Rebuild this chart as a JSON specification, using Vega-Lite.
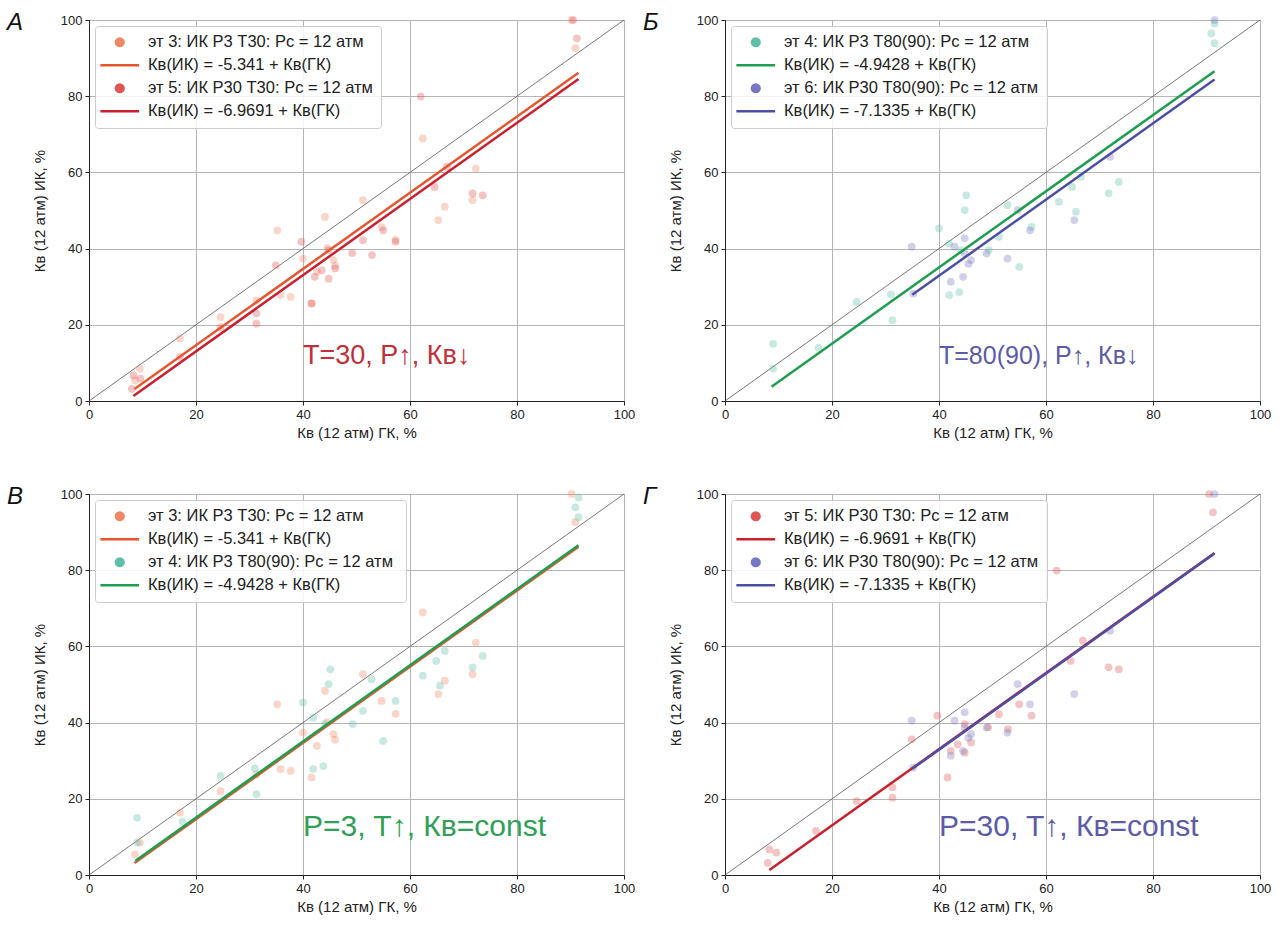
{
  "$schema": "https://vega.github.io/schema/vega-lite/v6.json",
  "background": "white",
  "padding": {"left": 6, "top": 10, "right": 5, "bottom": 5},
  "datasets": {
    "pts": [
      {"s":"p3","gk":8.6,"ik":5.4},{"s":"p3","gk":9.5,"ik":8.5},{"s":"p3","gk":17,"ik":16.4},{"s":"p3","gk":24.6,"ik":22},{"s":"p3","gk":31.3,"ik":26.4},
      {"s":"p3","gk":35.8,"ik":27.8},{"s":"p3","gk":37.7,"ik":27.3},{"s":"p3","gk":35.2,"ik":44.8},{"s":"p3","gk":41.6,"ik":25.6},{"s":"p3","gk":40,"ik":37.4},
      {"s":"p3","gk":44.5,"ik":40.1},{"s":"p3","gk":45.7,"ik":37},{"s":"p3","gk":44.1,"ik":48.3},{"s":"p3","gk":46,"ik":35.5},{"s":"p3","gk":51.2,"ik":52.7},
      {"s":"p3","gk":54.7,"ik":45.7},{"s":"p3","gk":57.3,"ik":42.3},{"s":"p3","gk":62.4,"ik":68.9},{"s":"p3","gk":65.3,"ik":47.5},{"s":"p3","gk":66.5,"ik":51},
      {"s":"p3","gk":71.7,"ik":52.7},{"s":"p3","gk":72.3,"ik":61},{"s":"p3","gk":90.9,"ik":92.6},{"s":"p3","gk":90.2,"ik":100},{"s":"p3","gk":42.6,"ik":33.9},
      {"s":"p5","gk":8.3,"ik":6.7},{"s":"p5","gk":9.6,"ik":5.9},{"s":"p5","gk":8,"ik":3.2},{"s":"p5","gk":17,"ik":11.6},{"s":"p5","gk":24.6,"ik":19.4},
      {"s":"p5","gk":31.3,"ik":23},{"s":"p5","gk":31.3,"ik":20.3},{"s":"p5","gk":34.9,"ik":35.6},{"s":"p5","gk":39.7,"ik":41.8},{"s":"p5","gk":41.6,"ik":25.6},
      {"s":"p5","gk":42.2,"ik":32.6},{"s":"p5","gk":43.5,"ik":34.3},{"s":"p5","gk":44.8,"ik":39.6},{"s":"p5","gk":44.8,"ik":32.1},{"s":"p5","gk":46,"ik":34.8},
      {"s":"p5","gk":49.2,"ik":38.8},{"s":"p5","gk":51.2,"ik":42.2},{"s":"p5","gk":52.9,"ik":38.3},{"s":"p5","gk":55,"ik":44.8},{"s":"p5","gk":57.3,"ik":41.8},
      {"s":"p5","gk":62,"ik":79.9},{"s":"p5","gk":64.6,"ik":56.2},{"s":"p5","gk":66.9,"ik":61.5},{"s":"p5","gk":71.7,"ik":54.5},{"s":"p5","gk":73.6,"ik":54},
      {"s":"p5","gk":91.2,"ik":95.2},{"s":"p5","gk":90.5,"ik":100},
      {"s":"p4","gk":9,"ik":15},{"s":"p4","gk":9,"ik":8.5},{"s":"p4","gk":17.5,"ik":14},{"s":"p4","gk":24.6,"ik":26},{"s":"p4","gk":31.3,"ik":21.2},
      {"s":"p4","gk":31,"ik":28},{"s":"p4","gk":40,"ik":45.3},{"s":"p4","gk":45.1,"ik":54},{"s":"p4","gk":44.8,"ik":50.1},{"s":"p4","gk":41.9,"ik":41.3},
      {"s":"p4","gk":44.1,"ik":39.6},{"s":"p4","gk":49.3,"ik":39.6},{"s":"p4","gk":43.8,"ik":28.6},{"s":"p4","gk":41.9,"ik":27.8},{"s":"p4","gk":51.2,"ik":43.1},
      {"s":"p4","gk":52.8,"ik":51.4},{"s":"p4","gk":57.3,"ik":45.7},{"s":"p4","gk":55,"ik":35.2},{"s":"p4","gk":62.4,"ik":52.3},{"s":"p4","gk":64.9,"ik":56.2},
      {"s":"p4","gk":65.6,"ik":49.7},{"s":"p4","gk":66.5,"ik":58.8},{"s":"p4","gk":71.7,"ik":54.5},{"s":"p4","gk":73.6,"ik":57.5},{"s":"p4","gk":90.9,"ik":96.5},
      {"s":"p4","gk":91.5,"ik":93.9},{"s":"p4","gk":91.5,"ik":99.1},
      {"s":"p6","gk":34.9,"ik":40.5},{"s":"p6","gk":35.2,"ik":28.2},{"s":"p6","gk":42.9,"ik":40.5},{"s":"p6","gk":44.8,"ik":42.7},{"s":"p6","gk":44.8,"ik":38.7},
      {"s":"p6","gk":46,"ik":37},{"s":"p6","gk":42.2,"ik":31.3},{"s":"p6","gk":44.5,"ik":32.6},{"s":"p6","gk":48.9,"ik":38.7},{"s":"p6","gk":52.8,"ik":37.4},
      {"s":"p6","gk":54.7,"ik":50.1},{"s":"p6","gk":57,"ik":44.8},{"s":"p6","gk":65.3,"ik":47.5},{"s":"p6","gk":72,"ik":64.1},{"s":"p6","gk":91.5,"ik":100},
      {"s":"p6","gk":45.5,"ik":36}
    ],
    "fits": [
      {"s":"l3","gk":8.5,"ik":3.159},{"s":"l3","gk":91.5,"ik":86.159},
      {"s":"l5","gk":8.3,"ik":1.331},{"s":"l5","gk":91.5,"ik":84.531},
      {"s":"l4","gk":8.7,"ik":3.757},{"s":"l4","gk":91.5,"ik":86.557},
      {"s":"l6","gk":35,"ik":27.867},{"s":"l6","gk":91.5,"ik":84.367}
    ],
    "diag": [{"gk":0,"ik":0},{"gk":100,"ik":100}],
    "notes": [
      {"p":"A","note":"T=30, P↑, Кв↓","gk":40,"ik":11.8},
      {"p":"B","note":"T=80(90), P↑, Кв↓","gk":40,"ik":11.8},
      {"p":"C","note":"P=3, T↑, Кв=const","gk":40,"ik":12.6},
      {"p":"D","note":"P=30, T↑, Кв=const","gk":40,"ik":12.6}
    ]
  },
  "columns": 2,
  "spacing": {"row": 43, "column": 6},
  "resolve": {
    "scale": {"color": "independent", "stroke": "independent", "shape": "independent"},
    "legend": {"color": "independent", "stroke": "independent", "shape": "independent"}
  },
  "concat": [
    {
      "width": 535, "height": 381,
      "title": {"text": "А"},
      "encoding": {
        "x": {"field":"gk","type":"quantitative","scale":{"domain":[0,100],"nice":false,"zero":false},"axis":{"values":[0,20,40,60,80,100],"title":"Кв (12 атм) ГК, %"}},
        "y": {"field":"ik","type":"quantitative","scale":{"domain":[0,100],"nice":false,"zero":false},"axis":{"values":[0,20,40,60,80,100],"title":"Кв (12 атм) ИК, %"}}
      },
      "layer": [
        {"data":{"name":"diag"},"mark":{"type":"line","color":"#555555","strokeWidth":0.8}},
        {"data":{"name":"pts"},"transform":[{"filter":"datum.s==='p3' || datum.s==='p5'"}],
         "mark":{"type":"point","filled":true,"size":60,"fillOpacity":0.35,"strokeOpacity":1,"strokeWidth":2.5},
         "encoding":{
           "color":{"field":"s","type":"nominal","scale":{"domain":["p3","l3","p5","l5"],"range":["#ee8866","#e4572e","#e05555","#c8202f"]},
             "legend":{"labelExpr":"datum.value==='p3' ? 'эт 3: ИК Р3  Т30: Рс = 12 атм' : datum.value==='l3' ? 'Кв(ИК) = -5.341 + Кв(ГК)' : datum.value==='p4' ? 'эт 4: ИК Р3  Т80(90): Рс = 12 атм' : datum.value==='l4' ? 'Кв(ИК) = -4.9428 + Кв(ГК)' : datum.value==='p5' ? 'эт 5: ИК Р30 Т30: Рс = 12 атм' : datum.value==='l5' ? 'Кв(ИК) = -6.9691 + Кв(ГК)' : datum.value==='p6' ? 'эт 6: ИК Р30 Т80(90): Рс = 12 атм' : 'Кв(ИК) = -7.1335 + Кв(ГК)'"}},
           "stroke":{"field":"s","type":"nominal","scale":{"domain":["p3","l3","p5","l5"],"range":["transparent","#e4572e","transparent","#c8202f"]},
             "legend":{"labelExpr":"datum.value==='p3' ? 'эт 3: ИК Р3  Т30: Рс = 12 атм' : datum.value==='l3' ? 'Кв(ИК) = -5.341 + Кв(ГК)' : datum.value==='p4' ? 'эт 4: ИК Р3  Т80(90): Рс = 12 атм' : datum.value==='l4' ? 'Кв(ИК) = -4.9428 + Кв(ГК)' : datum.value==='p5' ? 'эт 5: ИК Р30 Т30: Рс = 12 атм' : datum.value==='l5' ? 'Кв(ИК) = -6.9691 + Кв(ГК)' : datum.value==='p6' ? 'эт 6: ИК Р30 Т80(90): Рс = 12 атм' : 'Кв(ИК) = -7.1335 + Кв(ГК)'"}},
           "shape":{"field":"s","type":"nominal","scale":{"domain":["p3","l3","p5","l5"],"range":["circle","M-5,0H5","circle","M-5,0H5"]},
             "legend":{"labelExpr":"datum.value==='p3' ? 'эт 3: ИК Р3  Т30: Рс = 12 атм' : datum.value==='l3' ? 'Кв(ИК) = -5.341 + Кв(ГК)' : datum.value==='p4' ? 'эт 4: ИК Р3  Т80(90): Рс = 12 атм' : datum.value==='l4' ? 'Кв(ИК) = -4.9428 + Кв(ГК)' : datum.value==='p5' ? 'эт 5: ИК Р30 Т30: Рс = 12 атм' : datum.value==='l5' ? 'Кв(ИК) = -6.9691 + Кв(ГК)' : datum.value==='p6' ? 'эт 6: ИК Р30 Т80(90): Рс = 12 атм' : 'Кв(ИК) = -7.1335 + Кв(ГК)'"}}
         }},
        {"data":{"name":"fits"},"transform":[{"filter":"datum.s==='l3' || datum.s==='l5'"}],
         "mark":{"type":"line","strokeWidth":2.5},
         "encoding":{"color":{"field":"s","type":"nominal"}}},
        {"data":{"name":"notes"},"transform":[{"filter":"datum.p==='A'"}],
         "mark":{"type":"text","align":"left","baseline":"middle","fontSize":27,"color":"#c0303a"},
         "encoding":{"text":{"field":"note","type":"nominal"}}}
      ]
    },
    {
      "width": 535, "height": 381,
      "title": {"text": "Б"},
      "encoding": {
        "x": {"field":"gk","type":"quantitative","scale":{"domain":[0,100],"nice":false,"zero":false},"axis":{"values":[0,20,40,60,80,100],"title":"Кв (12 атм) ГК, %"}},
        "y": {"field":"ik","type":"quantitative","scale":{"domain":[0,100],"nice":false,"zero":false},"axis":{"values":[0,20,40,60,80,100],"title":"Кв (12 атм) ИК, %"}}
      },
      "layer": [
        {"data":{"name":"diag"},"mark":{"type":"line","color":"#555555","strokeWidth":0.8}},
        {"data":{"name":"pts"},"transform":[{"filter":"datum.s==='p4' || datum.s==='p6'"}],
         "mark":{"type":"point","filled":true,"size":60,"fillOpacity":0.35,"strokeOpacity":1,"strokeWidth":2.5},
         "encoding":{
           "color":{"field":"s","type":"nominal","scale":{"domain":["p4","l4","p6","l6"],"range":["#5fbfa8","#1f9e50","#7777c4","#4b4ea3"]},
             "legend":{"labelExpr":"datum.value==='p3' ? 'эт 3: ИК Р3  Т30: Рс = 12 атм' : datum.value==='l3' ? 'Кв(ИК) = -5.341 + Кв(ГК)' : datum.value==='p4' ? 'эт 4: ИК Р3  Т80(90): Рс = 12 атм' : datum.value==='l4' ? 'Кв(ИК) = -4.9428 + Кв(ГК)' : datum.value==='p5' ? 'эт 5: ИК Р30 Т30: Рс = 12 атм' : datum.value==='l5' ? 'Кв(ИК) = -6.9691 + Кв(ГК)' : datum.value==='p6' ? 'эт 6: ИК Р30 Т80(90): Рс = 12 атм' : 'Кв(ИК) = -7.1335 + Кв(ГК)'"}},
           "stroke":{"field":"s","type":"nominal","scale":{"domain":["p4","l4","p6","l6"],"range":["transparent","#1f9e50","transparent","#4b4ea3"]},
             "legend":{"labelExpr":"datum.value==='p3' ? 'эт 3: ИК Р3  Т30: Рс = 12 атм' : datum.value==='l3' ? 'Кв(ИК) = -5.341 + Кв(ГК)' : datum.value==='p4' ? 'эт 4: ИК Р3  Т80(90): Рс = 12 атм' : datum.value==='l4' ? 'Кв(ИК) = -4.9428 + Кв(ГК)' : datum.value==='p5' ? 'эт 5: ИК Р30 Т30: Рс = 12 атм' : datum.value==='l5' ? 'Кв(ИК) = -6.9691 + Кв(ГК)' : datum.value==='p6' ? 'эт 6: ИК Р30 Т80(90): Рс = 12 атм' : 'Кв(ИК) = -7.1335 + Кв(ГК)'"}},
           "shape":{"field":"s","type":"nominal","scale":{"domain":["p4","l4","p6","l6"],"range":["circle","M-5,0H5","circle","M-5,0H5"]},
             "legend":{"labelExpr":"datum.value==='p3' ? 'эт 3: ИК Р3  Т30: Рс = 12 атм' : datum.value==='l3' ? 'Кв(ИК) = -5.341 + Кв(ГК)' : datum.value==='p4' ? 'эт 4: ИК Р3  Т80(90): Рс = 12 атм' : datum.value==='l4' ? 'Кв(ИК) = -4.9428 + Кв(ГК)' : datum.value==='p5' ? 'эт 5: ИК Р30 Т30: Рс = 12 атм' : datum.value==='l5' ? 'Кв(ИК) = -6.9691 + Кв(ГК)' : datum.value==='p6' ? 'эт 6: ИК Р30 Т80(90): Рс = 12 атм' : 'Кв(ИК) = -7.1335 + Кв(ГК)'"}}
         }},
        {"data":{"name":"fits"},"transform":[{"filter":"datum.s==='l4' || datum.s==='l6'"}],
         "mark":{"type":"line","strokeWidth":2.5},
         "encoding":{"color":{"field":"s","type":"nominal"}}},
        {"data":{"name":"notes"},"transform":[{"filter":"datum.p==='B'"}],
         "mark":{"type":"text","align":"left","baseline":"middle","fontSize":25,"color":"#5b5ba8"},
         "encoding":{"text":{"field":"note","type":"nominal"}}}
      ]
    },
    {
      "width": 535, "height": 381,
      "title": {"text": "В"},
      "encoding": {
        "x": {"field":"gk","type":"quantitative","scale":{"domain":[0,100],"nice":false,"zero":false},"axis":{"values":[0,20,40,60,80,100],"title":"Кв (12 атм) ГК, %"}},
        "y": {"field":"ik","type":"quantitative","scale":{"domain":[0,100],"nice":false,"zero":false},"axis":{"values":[0,20,40,60,80,100],"title":"Кв (12 атм) ИК, %"}}
      },
      "layer": [
        {"data":{"name":"diag"},"mark":{"type":"line","color":"#555555","strokeWidth":0.8}},
        {"data":{"name":"pts"},"transform":[{"filter":"datum.s==='p3' || datum.s==='p4'"}],
         "mark":{"type":"point","filled":true,"size":60,"fillOpacity":0.35,"strokeOpacity":1,"strokeWidth":2.5},
         "encoding":{
           "color":{"field":"s","type":"nominal","scale":{"domain":["p3","l3","p4","l4"],"range":["#ee8866","#e4572e","#5fbfa8","#1f9e50"]},
             "legend":{"labelExpr":"datum.value==='p3' ? 'эт 3: ИК Р3  Т30: Рс = 12 атм' : datum.value==='l3' ? 'Кв(ИК) = -5.341 + Кв(ГК)' : datum.value==='p4' ? 'эт 4: ИК Р3  Т80(90): Рс = 12 атм' : datum.value==='l4' ? 'Кв(ИК) = -4.9428 + Кв(ГК)' : datum.value==='p5' ? 'эт 5: ИК Р30 Т30: Рс = 12 атм' : datum.value==='l5' ? 'Кв(ИК) = -6.9691 + Кв(ГК)' : datum.value==='p6' ? 'эт 6: ИК Р30 Т80(90): Рс = 12 атм' : 'Кв(ИК) = -7.1335 + Кв(ГК)'"}},
           "stroke":{"field":"s","type":"nominal","scale":{"domain":["p3","l3","p4","l4"],"range":["transparent","#e4572e","transparent","#1f9e50"]},
             "legend":{"labelExpr":"datum.value==='p3' ? 'эт 3: ИК Р3  Т30: Рс = 12 атм' : datum.value==='l3' ? 'Кв(ИК) = -5.341 + Кв(ГК)' : datum.value==='p4' ? 'эт 4: ИК Р3  Т80(90): Рс = 12 атм' : datum.value==='l4' ? 'Кв(ИК) = -4.9428 + Кв(ГК)' : datum.value==='p5' ? 'эт 5: ИК Р30 Т30: Рс = 12 атм' : datum.value==='l5' ? 'Кв(ИК) = -6.9691 + Кв(ГК)' : datum.value==='p6' ? 'эт 6: ИК Р30 Т80(90): Рс = 12 атм' : 'Кв(ИК) = -7.1335 + Кв(ГК)'"}},
           "shape":{"field":"s","type":"nominal","scale":{"domain":["p3","l3","p4","l4"],"range":["circle","M-5,0H5","circle","M-5,0H5"]},
             "legend":{"labelExpr":"datum.value==='p3' ? 'эт 3: ИК Р3  Т30: Рс = 12 атм' : datum.value==='l3' ? 'Кв(ИК) = -5.341 + Кв(ГК)' : datum.value==='p4' ? 'эт 4: ИК Р3  Т80(90): Рс = 12 атм' : datum.value==='l4' ? 'Кв(ИК) = -4.9428 + Кв(ГК)' : datum.value==='p5' ? 'эт 5: ИК Р30 Т30: Рс = 12 атм' : datum.value==='l5' ? 'Кв(ИК) = -6.9691 + Кв(ГК)' : datum.value==='p6' ? 'эт 6: ИК Р30 Т80(90): Рс = 12 атм' : 'Кв(ИК) = -7.1335 + Кв(ГК)'"}}
         }},
        {"data":{"name":"fits"},"transform":[{"filter":"datum.s==='l3' || datum.s==='l4'"}],
         "mark":{"type":"line","strokeWidth":2.5},
         "encoding":{"color":{"field":"s","type":"nominal"}}},
        {"data":{"name":"notes"},"transform":[{"filter":"datum.p==='C'"}],
         "mark":{"type":"text","align":"left","baseline":"middle","fontSize":30,"color":"#2fa055"},
         "encoding":{"text":{"field":"note","type":"nominal"}}}
      ]
    },
    {
      "width": 535, "height": 381,
      "title": {"text": "Г"},
      "encoding": {
        "x": {"field":"gk","type":"quantitative","scale":{"domain":[0,100],"nice":false,"zero":false},"axis":{"values":[0,20,40,60,80,100],"title":"Кв (12 атм) ГК, %"}},
        "y": {"field":"ik","type":"quantitative","scale":{"domain":[0,100],"nice":false,"zero":false},"axis":{"values":[0,20,40,60,80,100],"title":"Кв (12 атм) ИК, %"}}
      },
      "layer": [
        {"data":{"name":"diag"},"mark":{"type":"line","color":"#555555","strokeWidth":0.8}},
        {"data":{"name":"pts"},"transform":[{"filter":"datum.s==='p5' || datum.s==='p6'"}],
         "mark":{"type":"point","filled":true,"size":60,"fillOpacity":0.35,"strokeOpacity":1,"strokeWidth":2.5},
         "encoding":{
           "color":{"field":"s","type":"nominal","scale":{"domain":["p5","l5","p6","l6"],"range":["#e05555","#c8202f","#7777c4","#4b4ea3"]},
             "legend":{"labelExpr":"datum.value==='p3' ? 'эт 3: ИК Р3  Т30: Рс = 12 атм' : datum.value==='l3' ? 'Кв(ИК) = -5.341 + Кв(ГК)' : datum.value==='p4' ? 'эт 4: ИК Р3  Т80(90): Рс = 12 атм' : datum.value==='l4' ? 'Кв(ИК) = -4.9428 + Кв(ГК)' : datum.value==='p5' ? 'эт 5: ИК Р30 Т30: Рс = 12 атм' : datum.value==='l5' ? 'Кв(ИК) = -6.9691 + Кв(ГК)' : datum.value==='p6' ? 'эт 6: ИК Р30 Т80(90): Рс = 12 атм' : 'Кв(ИК) = -7.1335 + Кв(ГК)'"}},
           "stroke":{"field":"s","type":"nominal","scale":{"domain":["p5","l5","p6","l6"],"range":["transparent","#c8202f","transparent","#4b4ea3"]},
             "legend":{"labelExpr":"datum.value==='p3' ? 'эт 3: ИК Р3  Т30: Рс = 12 атм' : datum.value==='l3' ? 'Кв(ИК) = -5.341 + Кв(ГК)' : datum.value==='p4' ? 'эт 4: ИК Р3  Т80(90): Рс = 12 атм' : datum.value==='l4' ? 'Кв(ИК) = -4.9428 + Кв(ГК)' : datum.value==='p5' ? 'эт 5: ИК Р30 Т30: Рс = 12 атм' : datum.value==='l5' ? 'Кв(ИК) = -6.9691 + Кв(ГК)' : datum.value==='p6' ? 'эт 6: ИК Р30 Т80(90): Рс = 12 атм' : 'Кв(ИК) = -7.1335 + Кв(ГК)'"}},
           "shape":{"field":"s","type":"nominal","scale":{"domain":["p5","l5","p6","l6"],"range":["circle","M-5,0H5","circle","M-5,0H5"]},
             "legend":{"labelExpr":"datum.value==='p3' ? 'эт 3: ИК Р3  Т30: Рс = 12 атм' : datum.value==='l3' ? 'Кв(ИК) = -5.341 + Кв(ГК)' : datum.value==='p4' ? 'эт 4: ИК Р3  Т80(90): Рс = 12 атм' : datum.value==='l4' ? 'Кв(ИК) = -4.9428 + Кв(ГК)' : datum.value==='p5' ? 'эт 5: ИК Р30 Т30: Рс = 12 атм' : datum.value==='l5' ? 'Кв(ИК) = -6.9691 + Кв(ГК)' : datum.value==='p6' ? 'эт 6: ИК Р30 Т80(90): Рс = 12 атм' : 'Кв(ИК) = -7.1335 + Кв(ГК)'"}}
         }},
        {"data":{"name":"fits"},"transform":[{"filter":"datum.s==='l5' || datum.s==='l6'"}],
         "mark":{"type":"line","strokeWidth":2.5},
         "encoding":{"color":{"field":"s","type":"nominal"}}},
        {"data":{"name":"notes"},"transform":[{"filter":"datum.p==='D'"}],
         "mark":{"type":"text","align":"left","baseline":"middle","fontSize":30,"color":"#5b5ba8"},
         "encoding":{"text":{"field":"note","type":"nominal"}}}
      ]
    }
  ],
  "config": {
    "font": "Liberation Sans",
    "view": {"stroke": "#222222", "strokeWidth": 1},
    "axis": {
      "labelFont": "Liberation Sans", "labelFontSize": 13, "labelColor": "#222222",
      "titleFont": "Liberation Sans", "titleFontSize": 15, "titleFontWeight": "normal", "titleColor": "#222222",
      "tickColor": "#222222", "tickSize": 4, "domainColor": "#222222",
      "gridColor": "#b5b5b5", "gridWidth": 1, "gridOpacity": 1, "labelPadding": 3, "labelFlush": false, "labelOverlap": false
    },
    "axisY": {"titlePadding": 13},
    "axisX": {"titlePadding": 4},
    "legend": {
      "orient": "top-left", "offset": 6, "padding": 8, "title": null,
      "strokeColor": "#cccccc", "fillColor": "rgba(255,255,255,0.85)", "cornerRadius": 3,
      "labelFont": "Liberation Sans", "labelFontSize": 16.5, "labelColor": "#222222", "labelLimit": 400,
      "symbolSize": 60, "symbolStrokeWidth": 2.5, "symbolOffset": 8.5, "labelOffset": 20, "rowPadding": 5
    },
    "title": {
      "font": "Liberation Sans", "fontSize": 24, "fontStyle": "italic", "fontWeight": "normal", "color": "#111111",
      "anchor": "start", "frame": "group", "baseline": "alphabetic", "offset": 0, "dx": -82, "dy": 28
    }
  }
}
